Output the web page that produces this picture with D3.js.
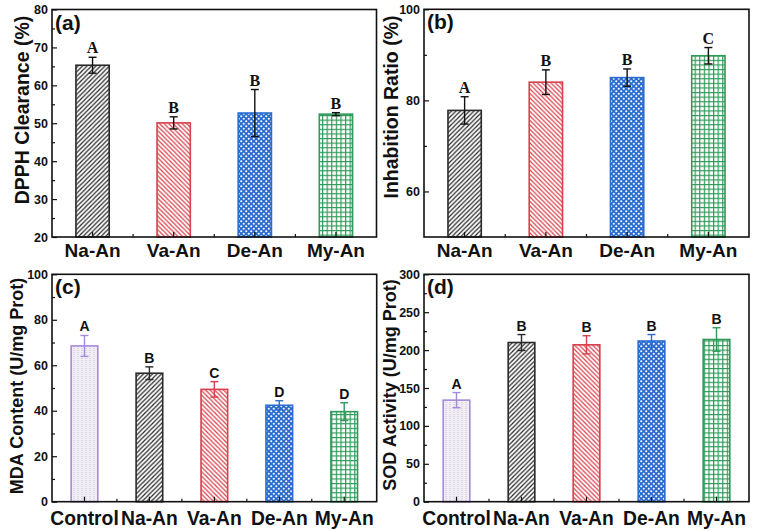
<!DOCTYPE html>
<html><head><meta charset="utf-8">
<script src="https://cdn.jsdelivr.net/npm/d3@7"></script>
<style>body{margin:0;background:#fff}svg{display:block}</style>
</head><body>
<svg id="chart" width="758" height="531"></svg>
<script>
// ---------- data ----------
const catsAB = ["Na-An", "Va-An", "De-An", "My-An"];
const catsCD = ["Control", "Na-An", "Va-An", "De-An", "My-An"];

const dpphValues = [65.3, 50.1, 52.7, 52.4];
const dpphErrors = [2.1, 1.6, 6.2, 0.4];
const dpphLetters = ["A", "B", "B", "B"];
const dpphTicks = [20, 30, 40, 50, 60, 70, 80];
const dpphMinor = [25, 35, 45, 55, 65, 75];

const inhibValues = [77.8, 84.0, 85.0, 89.8];
const inhibErrors = [3.0, 2.7, 1.9, 1.8];
const inhibLetters = ["A", "B", "B", "C"];
const inhibTicks = [60, 80, 100];
const inhibMinor = [70, 90];

const mdaValues = [68.5, 56.5, 49.4, 42.4, 39.6];
const mdaErrors = [4.6, 2.8, 3.4, 2.0, 3.9];
const mdaLetters = ["A", "B", "C", "D", "D"];
const mdaTicks = [0, 20, 40, 60, 80, 100];
const mdaMinor = [10, 30, 50, 70, 90];

const sodValues = [134, 210, 207, 212, 214];
const sodErrors = [10, 10.5, 12, 8.5, 15.5];
const sodLetters = ["A", "B", "B", "B", "B"];
const sodTicks = [0, 50, 100, 150, 200, 250, 300];
const sodMinor = [25, 75, 125, 175, 225, 275];

// ---------- styles ----------
const svg = d3.select("#chart");
const defs = svg.append("defs");

function pat(id, w, h) {
  return defs.append("pattern").attr("id", id).attr("patternUnits", "userSpaceOnUse")
    .attr("width", w).attr("height", h);
}
// Control: light fill with dotted vertical lines
let p = pat("pControl", 4, 4);
p.append("rect").attr("width", 4).attr("height", 4).attr("fill", "#f1eef5");
p.append("path").attr("d", "M2,0V4").attr("stroke", "#c8c1d2").attr("stroke-width", 1).attr("stroke-dasharray", "1,1");
// Na-An: black forward hatch
p = pat("pNa", 4.5, 4.5);
p.append("rect").attr("width", 4.5).attr("height", 4.5).attr("fill", "#fff");
p.append("path").attr("d", "M-1,1L1,-1M0,4.5L4.5,0M3.5,5.5L5.5,3.5").attr("stroke", "#262626").attr("stroke-width", 1.2);
// Va-An: red back hatch
p = pat("pVa", 4.5, 4.5);
p.append("rect").attr("width", 4.5).attr("height", 4.5).attr("fill", "#fff");
p.append("path").attr("d", "M-1,3.5L1,5.5M0,0L4.5,4.5M3.5,-1L5.5,1").attr("stroke", "#d8404c").attr("stroke-width", 1.2);
// De-An: blue with white dots
p = pat("pDe", 5, 5);
p.append("rect").attr("width", 5).attr("height", 5).attr("fill", "#2b6ccf");
p.append("circle").attr("cx", 1.25).attr("cy", 1.25).attr("r", 1.05).attr("fill", "#fff");
p.append("circle").attr("cx", 3.75).attr("cy", 3.75).attr("r", 1.05).attr("fill", "#fff");
// My-An: green square grid
p = pat("pMy", 4.6, 4.6);
p.append("rect").attr("width", 4.6).attr("height", 4.6).attr("fill", "#fff");
p.append("path").attr("d", "M0,0.6H4.6M0.6,0V4.6").attr("stroke", "#2f9a5a").attr("stroke-width", 1.2);

const styles = {
  "Control": { color: "#a58ad8", fill: "url(#pControl)" },
  "Na-An": { color: "#2a2a2a", fill: "url(#pNa)" },
  "Va-An": { color: "#d8404c", fill: "url(#pVa)" },
  "De-An": { color: "#2b6ccf", fill: "url(#pDe)" },
  "My-An": { color: "#2f9a5a", fill: "url(#pMy)" }
};

const SANS = "'Liberation Sans', Arial, sans-serif";
const SERIF = "'Liberation Serif', 'Times New Roman', serif";

function panel(o) {
  const g = svg.append("g");
  const x = d3.scaleBand().domain(o.cats).range([o.left, o.right])
    .paddingInner(0.59).paddingOuter(0.295);
  const y = d3.scaleLinear().domain(o.domain).range([o.bottom, o.top]);
  const data = o.cats.map((c, i) => ({ c, v: o.values[i], e: o.errors[i], l: o.letters[i] }));

  // bars
  g.selectAll("rect.bar").data(data).join("rect").attr("class", "bar")
    .attr("x", d => x(d.c)).attr("width", x.bandwidth())
    .attr("y", d => y(d.v)).attr("height", d => y(o.domain[0]) - y(d.v))
    .attr("fill", d => styles[d.c].fill)
    .attr("stroke", d => styles[d.c].color).attr("stroke-width", 1.6);

  // error bars
  const cx = d => x(d.c) + x.bandwidth() / 2;
  const ecol = d => o.colorErr ? styles[d.c].color : "#111";
  const eg = g.selectAll("g.err").data(data).join("g").attr("class", "err")
    .attr("stroke", ecol).attr("stroke-width", 1.4);
  eg.append("line").attr("x1", cx).attr("x2", cx).attr("y1", d => y(d.v - d.e)).attr("y2", d => y(d.v + d.e));
  eg.append("line").attr("x1", d => cx(d) - 4).attr("x2", d => cx(d) + 4).attr("y1", d => y(d.v + d.e)).attr("y2", d => y(d.v + d.e));
  eg.append("line").attr("x1", d => cx(d) - 4).attr("x2", d => cx(d) + 4).attr("y1", d => y(d.v - d.e)).attr("y2", d => y(d.v - d.e));

  // significance letters
  g.selectAll("text.sig").data(data).join("text").attr("class", "sig")
    .attr("x", cx).attr("y", d => y(d.v + d.e) - 4)
    .attr("text-anchor", "middle")
    .attr("font-family", o.letterFont).attr("font-weight", "bold")
    .attr("font-size", o.letterSize).attr("fill", "#111")
    .text(d => d.l);

  // frame
  g.append("rect").attr("x", o.left).attr("y", o.top)
    .attr("width", o.right - o.left).attr("height", o.bottom - o.top)
    .attr("fill", "none").attr("stroke", "#111").attr("stroke-width", 1.6);

  // y axis
  const ya = g.append("g").attr("transform", `translate(${o.left},0)`)
    .call(d3.axisLeft(y).tickValues(o.ticks).tickSizeInner(-5).tickSizeOuter(0).tickPadding(4));
  const ym = g.append("g").attr("transform", `translate(${o.left},0)`)
    .call(d3.axisLeft(y).tickValues(o.minor).tickSizeInner(-3).tickSizeOuter(0).tickFormat(""));
  // x axis
  const xa = g.append("g").attr("transform", `translate(0,${o.bottom})`)
    .call(d3.axisBottom(x).tickSizeInner(-5).tickSizeOuter(0).tickPadding(o.xPad));
  const mids = o.cats.slice(1).map(c => x(c) - x.step() * x.paddingInner() / 2);
  g.append("g").selectAll("line").data(mids).join("line")
    .attr("x1", d => d).attr("x2", d => d).attr("y1", o.bottom).attr("y2", o.bottom - 3)
    .attr("stroke", "#111").attr("stroke-width", 1.2);

  [ya, ym, xa].forEach(a => {
    a.select(".domain").remove();
    a.selectAll(".tick line").attr("stroke", "#111").attr("stroke-width", 1.2);
  });
  ya.selectAll("text").attr("font-family", SANS).attr("font-weight", "bold")
    .attr("font-size", 12.5).attr("fill", "#111");
  xa.selectAll("text").attr("font-family", SANS).attr("font-weight", "bold")
    .attr("font-size", o.catSize).attr("fill", "#111");

  // axis title
  g.append("text")
    .attr("transform", `translate(${o.titleX},${o.titleY}) rotate(-90)`)
    .attr("text-anchor", "middle").attr("dy", "0.36em")
    .attr("font-family", SANS).attr("font-weight", "bold").attr("font-size", o.titleSize)
    .attr("fill", "#111").text(o.title);

  // panel label
  g.append("text").attr("x", o.left + 3).attr("y", o.top + 20)
    .attr("font-family", SANS).attr("font-weight", "bold").attr("font-size", 21)
    .attr("fill", "#111").text(o.label);
}

panel({
  cats: catsAB, values: dpphValues, errors: dpphErrors, letters: dpphLetters,
  ticks: dpphTicks, minor: dpphMinor, domain: [20, 80],
  left: 52, right: 376.5, top: 9.5, bottom: 237,
  colorErr: false, letterFont: SERIF, letterSize: 16, catSize: 19, xPad: 7,
  title: "DPPH Clearance (%)", titleX: 21.5, titleY: 110, titleSize: 19.5, label: "(a)"
});
panel({
  cats: catsAB, values: inhibValues, errors: inhibErrors, letters: inhibLetters,
  ticks: inhibTicks, minor: inhibMinor, domain: [50, 100],
  left: 424, right: 749, top: 9.3, bottom: 237,
  colorErr: false, letterFont: SERIF, letterSize: 16, catSize: 19, xPad: 7,
  title: "Inhabition Ratio (%)", titleX: 391, titleY: 107, titleSize: 19.5, label: "(b)"
});
panel({
  cats: catsCD, values: mdaValues, errors: mdaErrors, letters: mdaLetters,
  ticks: mdaTicks, minor: mdaMinor, domain: [0, 100],
  left: 52, right: 376.7, top: 274.3, bottom: 501.7,
  colorErr: true, letterFont: SANS, letterSize: 14, catSize: 19.3, xPad: 10,
  title: "MDA Content (U/mg Prot)", titleX: 17, titleY: 386, titleSize: 18, label: "(c)"
});
panel({
  cats: catsCD, values: sodValues, errors: sodErrors, letters: sodLetters,
  ticks: sodTicks, minor: sodMinor, domain: [0, 300],
  left: 424, right: 749, top: 274.3, bottom: 501.7,
  colorErr: true, letterFont: SANS, letterSize: 14, catSize: 19.3, xPad: 10,
  title: "SOD Activity (U/mg Prot)", titleX: 390, titleY: 385, titleSize: 18, label: "(d)"
});
</script>
</body></html>
